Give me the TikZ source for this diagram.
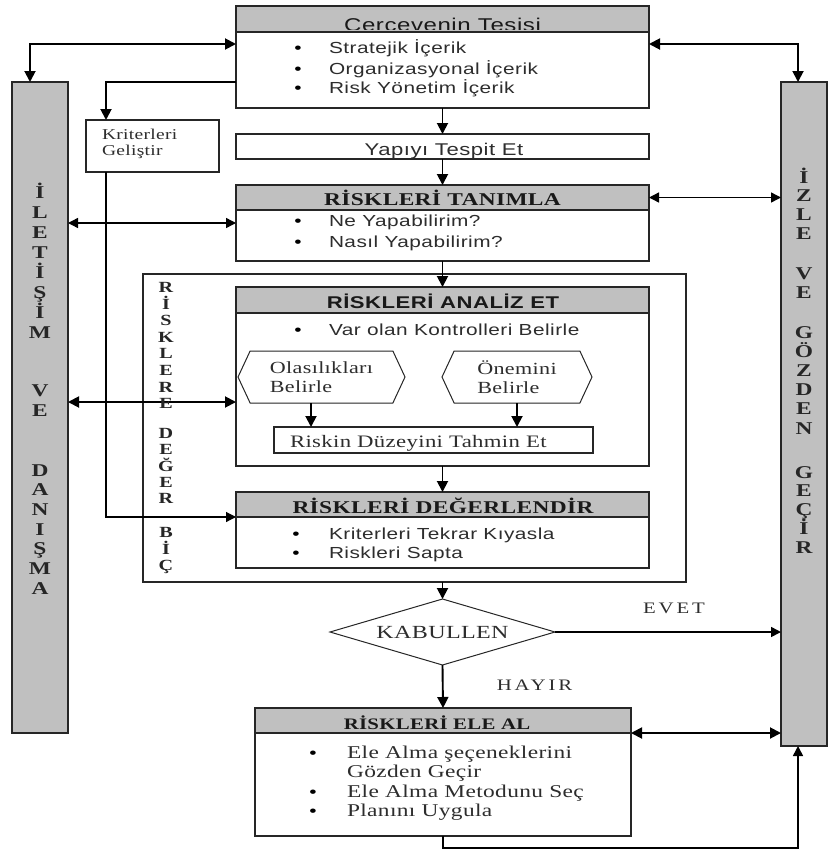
\documentclass[tikz,border=0pt]{standalone}
\usepackage{fontspec}
\setmainfont{Liberation Serif}
\newfontfamily\sansf[FakeStretch=1.3,LetterSpace=3]{Liberation Sans}
\newfontfamily\seriff[FakeStretch=1.3,LetterSpace=2]{Liberation Serif}
\newfontfamily\serifw[FakeStretch=1.3,LetterSpace=18]{Liberation Serif}
\usetikzlibrary{arrows.meta,shapes.geometric,shapes.symbols}
\definecolor{panelgray}{RGB}{192,192,192}
\definecolor{inkgray}{RGB}{45,45,45}
\newcommand\fsz[1]{\fontsize{#1}{#1}\selectfont}

\begin{document}
\begin{tikzpicture}[x=1pt,y=-1pt,
  every node/.style={inner sep=0pt, outer sep=0pt},
  frame/.style={draw=black!85, line width=1.3pt, fill=white, anchor=north west},
  headbox/.style={frame, fill=panelgray},
  sidebar/.style={frame, fill=panelgray},
  hexbox/.style={signal, signal to=east and west, signal pointer angle=130,
    draw=black!85, line width=1pt, fill=white, align=left,
    font=\seriff\fontsize{17}{19}\selectfont, text=inkgray},
  bigtip/.tip={Triangle[length=11pt,width=11pt]},
  smalltip/.tip={Triangle[length=10pt,width=10pt]},
  flow/.style={line width=1.9pt, -bigtip},
  flowboth/.style={line width=1.9pt, bigtip-bigtip},
  thinflow/.style={line width=1.2pt, -smalltip},
  thinboth/.style={line width=1.4pt, smalltip-smalltip},
  midflow/.style={line width=1.6pt, -smalltip},
  dot/.style={anchor=base, font=\sansf\fsz{16}, text=black},
  item/.style={anchor=base west, font=\sansf\fsz{16}, text=inkgray},
  sitem/.style={anchor=base west, font=\seriff\fsz{18}, text=inkgray},
  sertitle/.style={anchor=base, font=\seriff\bfseries\fsz{18}, text=black!90},
  vlet/.style={font=\seriff\bfseries\fsz{18}, text height=12pt, text depth=0pt, text=black!85},
  vsmall/.style={font=\seriff\bfseries\fsz{15.5}, text height=11pt, text depth=0pt, text=black!85},
]
\useasboundingbox (0,0) rectangle (829,854);

% side bars
\node[sidebar, minimum width=56pt, minimum height=651pt] (lbar) at (12,82) {};
\node[sidebar, minimum width=46pt, minimum height=664pt] (rbar) at (781,82) {};

% framework box
\node[headbox, minimum width=413pt, minimum height=26pt] (tophead) at (236,6) {};
\node[frame, minimum width=413pt, minimum height=76pt] (topbody) at (236,32) {};
\node[frame, minimum width=413pt, minimum height=25pt] (yapi) at (236,134) {};
\node[frame, minimum width=133pt, minimum height=52pt] (krit) at (86,120) {};

% identify
\node[headbox, minimum width=413pt, minimum height=25pt] (tanhead) at (236,185) {};
\node[frame, minimum width=413pt, minimum height=51pt] (tanbody) at (236,210) {};

% assessment frame with analysis and evaluation
\node[frame, minimum width=543pt, minimum height=308pt] (outer) at (143,274) {};
\node[headbox, minimum width=413pt, minimum height=26pt] (anahead) at (236,287) {};
\node[frame, minimum width=413pt, minimum height=153pt] (anabody) at (236,313) {};
\node[hexbox, minimum width=167pt, minimum height=52pt] (hexo) at (321.5,377) {Olasılıkları\\Belirle};
\node[hexbox, minimum width=150pt, minimum height=52pt] (hexn) at (517,377) {Önemini\\Belirle};
\node[frame, minimum width=319pt, minimum height=26pt] (riskin) at (274,427) {};
\node[headbox, minimum width=413pt, minimum height=25pt] (deghead) at (236,492) {};
\node[frame, minimum width=413pt, minimum height=51pt] (degbody) at (236,517) {};

% decision and treatment
\node[diamond, draw=black!85, line width=1pt, fill=white, aspect=3.4,
  minimum width=225pt, minimum height=66pt, font=\seriff\fsz{18.5}, text=inkgray] (kab) at (442.5,632) {KABULLEN};
\node[headbox, minimum width=376pt, minimum height=25pt] (elehead) at (255,708) {};
\node[frame, minimum width=376pt, minimum height=103pt] (elebody) at (255,733) {};

% bend points of the connectors
\coordinate (tl) at (30,44);
\coordinate (tr) at (798,44);
\coordinate (kr) at (106,82);
\coordinate (kb) at (106,517);
\coordinate (ya) at (0,223);
\coordinate (yb) at (0,402);
\coordinate (ho) at (311,0);
\coordinate (br) at (798,848);

% connectors
\draw[flowboth] (topbody.west |- tl) -| (lbar.north -| tl);
\draw[flowboth] (topbody.east |- tr) -| (rbar.north -| tr);
\draw[flow] (topbody.west |- kr) -| (krit.north -| kr);
\draw[flow] (topbody.south) -- (yapi.north);
\draw[flow] (yapi.south) -- (tanhead.north);
\draw[thinboth] (tanhead.east) -- (rbar.west |- tanhead.east);
\draw[thinboth] (lbar.east |- ya) -- (tanbody.west |- ya);
\draw[flow] (tanbody.south) -- (anahead.north);
\draw[flowboth] (lbar.east |- yb) -- (anabody.west |- yb);
\draw[flow] (hexo.south -| ho) -- (riskin.north -| ho);
\draw[flow] (hexn.south) -- (riskin.north -| hexn.south);
\draw[flow] (anabody.south) -- (deghead.north);
\draw[thinflow] (krit.south -| kb) |- (degbody.north west);
\draw[flow] (kab.north |- outer.south) -- (kab.north);
\draw[midflow] (kab.east) -- (rbar.west |- kab.east);
\draw[flow] (kab.south) -- (elehead.north);
\draw[flowboth] (elebody.north east) -- (rbar.west |- elebody.north east);
\draw[midflow] (elebody.south) |- (br) -- (rbar.south -| br);

% texts
\begin{scope}
  \clip (236,6) rectangle (649,29.5);
  \node[anchor=base, font=\sansf\fsz{18.5}, text=black!90] (toptitle) at (442.5,31) {Çerçevenin Tesisi};
\end{scope}
\node[dot] (tb1) at (298,53) {•};
\node[item] (tt1) at (329,53) {Stratejik İçerik};
\node[dot] (tb2) at (298,74) {•};
\node[item] (tt2) at (329,74) {Organizasyonal İçerik};
\node[dot] (tb3) at (298,93) {•};
\node[item] (tt3) at (329,93) {Risk Yönetim İçerik};

\node[anchor=base, font=\sansf\fsz{17}, text=inkgray] (yapitxt) at (444,155) {Yapıyı Tespit Et};
\node[anchor=base west, font=\seriff\fsz{15}, text=inkgray] (kt1) at (102,139) {Kriterleri};
\node[anchor=base west, font=\seriff\fsz{15}, text=inkgray] (kt2) at (102,155) {Geliştir};

\node[sertitle] (tantitle) at (442.5,205) {RİSKLERİ TANIMLA};
\node[dot] (nb1) at (298,226) {•};
\node[item] (nt1) at (329,226) {Ne Yapabilirim?};
\node[dot] (nb2) at (298,247) {•};
\node[item] (nt2) at (329,247) {Nasıl Yapabilirim?};

\node[anchor=base, font=\sansf\bfseries\fsz{17}, text=black!90] (anatitle) at (443,308) {RİSKLERİ ANALİZ ET};
\node[dot] (ab1) at (298,335) {•};
\node[item] (at1) at (329,335) {Var olan Kontrolleri Belirle};
\node[anchor=base west, font=\seriff\fsz{17.5}, text=inkgray] (rtxt) at (290,447) {Riskin Düzeyini Tahmin Et};

\node[sertitle] (degtitle) at (443,513) {RİSKLERİ DEĞERLENDİR};
\node[dot] (db1) at (296,539) {•};
\node[item] (dt1) at (329,539) {Kriterleri Tekrar Kıyasla};
\node[dot] (db2) at (296,558) {•};
\node[item] (dt2) at (329,558) {Riskleri Sapta};

\node[anchor=base, font=\serifw\fsz{16}, text=inkgray] (evet) at (674,613) {EVET};
\node[anchor=base, font=\serifw\fsz{16}, text=inkgray] (hayir) at (534.5,690) {HAYIR};

\node[sertitle, font=\seriff\bfseries\fsz{16}] (eletitle) at (437,729) {RİSKLERİ ELE AL};
\node[dot] (eb1) at (313,758) {•};
\node[sitem] (et1) at (347,758) {Ele Alma şeçeneklerini};
\node[sitem] (et2) at (347,777) {Gözden Geçir};
\node[dot] (eb2) at (313,797) {•};
\node[sitem] (et3) at (347,797) {Ele Alma Metodunu Seç};
\node[dot] (eb3) at (313,816) {•};
\node[sitem] (et4) at (347,816) {Planını Uygula};

% vertical captions
\foreach \ch [count=\i] in {İ,L,E,T,İ,Ş,İ,M}
  \node[vlet] (la\i) at (40,{192+20.1*(\i-1)}) {\ch};
\foreach \ch [count=\i] in {V,E}
  \node[vlet] (lb\i) at (40,{390+20*(\i-1)}) {\ch};
\foreach \ch [count=\i] in {D,A,N,I,Ş,M,A}
  \node[vlet] (lc\i) at (40,{470+19.7*(\i-1)}) {\ch};

\foreach \ch [count=\i] in {İ,Z,L,E}
  \node[vlet] (ra\i) at (804,{177+18.7*(\i-1)}) {\ch};
\foreach \ch [count=\i] in {V,E}
  \node[vlet] (rb\i) at (804,{273+19*(\i-1)}) {\ch};
\foreach \ch [count=\i] in {G,Ö,Z,D,E,N}
  \node[vlet] (rc\i) at (804,{332+19.2*(\i-1)}) {\ch};
\foreach \ch [count=\i] in {G,E,Ç,İ,R}
  \node[vlet] (rd\i) at (804,{472+18.75*(\i-1)}) {\ch};

\foreach \ch [count=\i] in {R,İ,S,K,L,E,R,E}
  \node[vsmall] (ia\i) at (166,{287+16.6*(\i-1)}) {\ch};
\foreach \ch [count=\i] in {D,E,Ğ,E,R}
  \node[vsmall] (ib\i) at (166,{433+16.25*(\i-1)}) {\ch};
\foreach \ch [count=\i] in {B,İ,Ç}
  \node[vsmall] (ic\i) at (166,{532+16.5*(\i-1)}) {\ch};
\end{tikzpicture}
\end{document}
